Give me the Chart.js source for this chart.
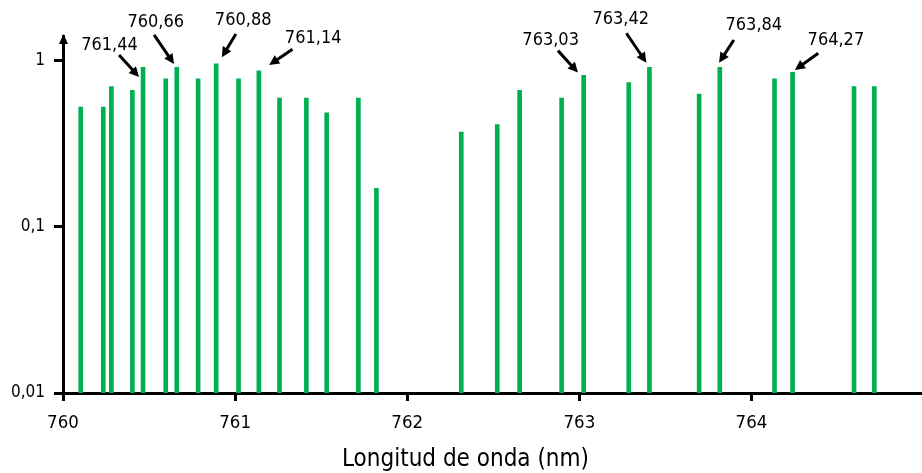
<!DOCTYPE html>
<html>
<head>
<meta charset="utf-8">
<script src="https://cdn.jsdelivr.net/npm/chart.js@4"></script>
<style>
  html, body { margin: 0; padding: 0; background: #ffffff; }
  #wrap { width: 922px; height: 473px; position: relative; }
</style>
</head>
<body>
<div id="wrap"><canvas id="c"></canvas></div>
<script>
// ---- data ----
const wavelengths = [760.103, 760.234, 760.281, 760.403, 760.465, 760.597, 760.661, 760.785, 760.890, 761.020,
                     761.138, 761.258, 761.414, 761.532, 761.716, 761.821, 762.314, 762.523, 762.653, 762.897,
                     763.025, 763.287, 763.407, 763.696, 763.816, 764.134, 764.239, 764.596, 764.714];
const intensities = [0.524, 0.524, 0.696, 0.662, 0.910, 0.774, 0.910, 0.774, 0.953, 0.774,
                     0.865, 0.593, 0.593, 0.484, 0.593, 0.170, 0.371, 0.411, 0.662, 0.593,
                     0.815, 0.736, 0.910, 0.627, 0.910, 0.774, 0.849, 0.696, 0.696];
const xTickValues = [760, 761, 762, 763, 764];
const xTickLabels = ['760', '761', '762', '763', '764'];
const yTickValues = [0.01, 0.1, 1];
const yTickLabels = ['0,01', '0,1', '1'];
const xAxisTitle = 'Longitud de onda (nm)';
// annotated lines: index into the arrays above, and the label text
const annotTargets = [4, 6, 8, 10, 20, 22, 24, 26];
const annotTexts = ['761,44', '760,66', '760,88', '761,14', '763,03', '763,42', '763,84', '764,27'];

// ---- layout of annotations (pixel offsets from the top of the targeted line) ----
const annotLayout = [
  { tip: [-4, 9.7],  tail: [-24, -12.3],  text: [-33.5, -22.3] },
  { tip: [-2.7, -3.3], tail: [-22.7, -32.3], text: [-21, -45.3] },
  { tip: [5.7, -6.7], tail: [19.7, -30],  text: [27, -44] },
  { tip: [10.3, -6], tail: [33.6, -21.7], text: [54.3, -33] },
  { tip: [-5.7, -2.6], tail: [-25.7, -24.6], text: [-33, -35.3] },
  { tip: [-3, -4.6], tail: [-23, -34],    text: [-28.7, -48.3] },
  { tip: [-0.7, -4.6], tail: [14, -27.3], text: [34, -42.3] },
  { tip: [2.3, -2.3], tail: [25.6, -19],  text: [43.3, -32.3] }
];
const titlePos = { x: 465.5, baseline: 466 };

const FONT = '"DejaVu Sans Condensed", "DejaVu Sans", sans-serif';

const points = wavelengths.map((w, i) => ({ x: w, y: intensities[i] }));

const annotPlugin = {
  id: 'annot',
  afterDraw(chart) {
    const ctx = chart.ctx;
    const xs = chart.scales.x, ys = chart.scales.y;
    const ca = chart.chartArea;
    ctx.save();
    // y axis arrow head
    const ax = Math.floor(ca.left) + 0.5;
    ctx.fillStyle = '#000';
    ctx.beginPath();
    ctx.moveTo(ax, ca.top - 2);
    ctx.lineTo(ax - 4.5, ca.top + 8);
    ctx.lineTo(ax + 4.5, ca.top + 8);
    ctx.closePath();
    ctx.fill();
    // axis title
    ctx.font = '24px ' + FONT;
    ctx.textAlign = 'center';
    ctx.textBaseline = 'alphabetic';
    ctx.fillText(xAxisTitle, titlePos.x, titlePos.baseline);
    // annotations
    ctx.font = '18px ' + FONT;
    ctx.textAlign = 'center';
    ctx.textBaseline = 'middle';
    annotTargets.forEach((idx, k) => {
      const bx = xs.getPixelForValue(wavelengths[idx]);
      const by = ys.getPixelForValue(intensities[idx]);
      const L = annotLayout[k];
      const tx = bx + L.tip[0], ty = by + L.tip[1];
      const sx = bx + L.tail[0], sy = by + L.tail[1];
      const ang = Math.atan2(ty - sy, tx - sx);
      const hl = 10, hw = 5;
      const bxh = tx - hl * Math.cos(ang), byh = ty - hl * Math.sin(ang);
      ctx.strokeStyle = '#000';
      ctx.lineWidth = 3;
      ctx.beginPath();
      ctx.moveTo(sx, sy);
      ctx.lineTo(bxh + Math.cos(ang), byh + Math.sin(ang));
      ctx.stroke();
      ctx.beginPath();
      ctx.moveTo(tx, ty);
      ctx.lineTo(bxh + hw * Math.sin(ang), byh - hw * Math.cos(ang));
      ctx.lineTo(bxh - hw * Math.sin(ang), byh + hw * Math.cos(ang));
      ctx.closePath();
      ctx.fill();
      ctx.fillText(annotTexts[k], bx + L.text[0], by + L.text[1]);
    });
    ctx.restore();
  }
};

new Chart(document.getElementById('c'), {
  type: 'bar',
  data: {
    datasets: [{
      data: points,
      backgroundColor: '#00B050',
      borderWidth: 0,
      barThickness: 4
    }]
  },
  options: {
    responsive: true,
    maintainAspectRatio: false,
    animation: false,
    layout: { padding: { left: 0, right: 1, top: 36, bottom: 0 } },
    plugins: { legend: { display: false }, tooltip: { enabled: false } },
    scales: {
      x: {
        type: 'linear',
        offset: false,
        min: 760,
        max: 764.985,
        afterFit(s) { s.height = 80; },
        afterBuildTicks(s) { s.ticks = xTickValues.map(v => ({ value: v })); },
        ticks: {
          color: '#000',
          font: { family: FONT, size: 18.5 },
          padding: 11,
          maxRotation: 0,
          autoSkip: false,
          callback: (v) => { const i = xTickValues.indexOf(v); return i >= 0 ? xTickLabels[i] : ''; }
        },
        grid: { display: true, offset: false, drawOnChartArea: false, drawTicks: true, tickLength: 8, tickWidth: 3, tickColor: '#000' },
        border: { display: true, color: '#000', width: 3 },
        title: { display: false }
      },
      y: {
        type: 'logarithmic',
        min: 0.01,
        max: 1.403,
        afterFit(s) { s.width = 63; },
        afterBuildTicks(s) { s.ticks = yTickValues.map(v => ({ value: v })); },
        ticks: {
          color: '#000',
          font: { family: FONT, size: 17 },
          padding: 9,
          autoSkip: false,
          callback: (v) => { const i = yTickValues.findIndex(t => Math.abs(t - v) < 1e-9); return i >= 0 ? yTickLabels[i] : ''; }
        },
        grid: { display: true, drawOnChartArea: false, drawTicks: true, tickLength: 9, tickWidth: 3, tickColor: '#000' },
        border: { display: true, color: '#000', width: 3 }
      }
    }
  },
  plugins: [annotPlugin]
});
</script>
</body>
</html>
